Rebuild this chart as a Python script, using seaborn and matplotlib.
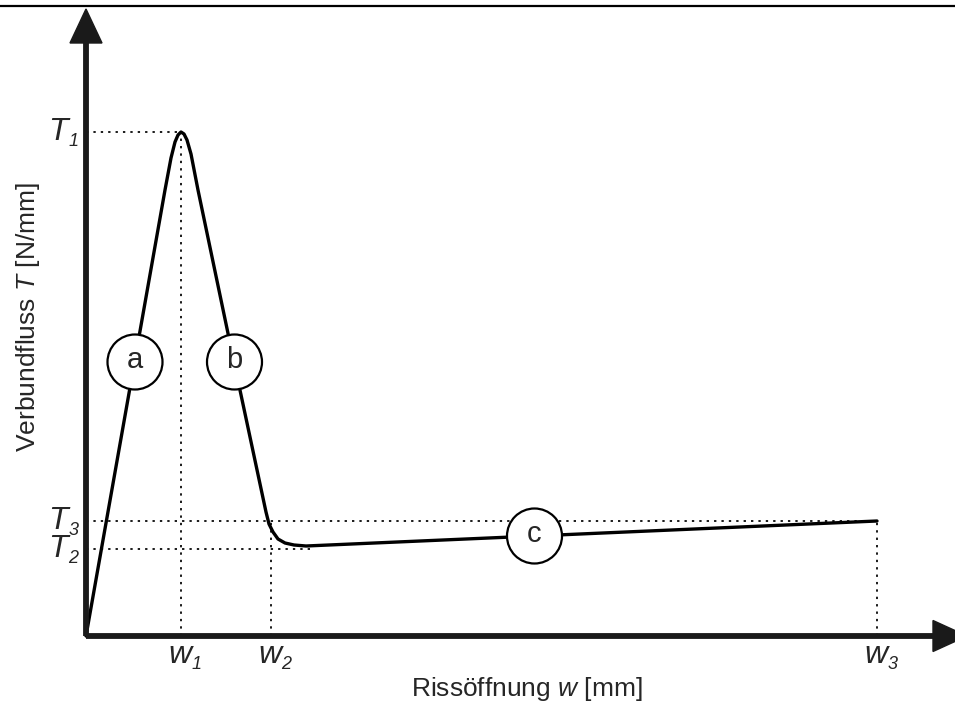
import matplotlib
matplotlib.use("Agg")
import matplotlib.pyplot as plt
from matplotlib.patches import Circle, Polygon
import seaborn as sns
import pandas as pd

#%% data (pixel-ish units from the origin)
w_curve = [0, 79, 85, 89, 92, 95, 98, 101, 105, 112, 148, 180, 183, 187, 192, 199, 208, 220, 791]
T_curve = [0, 446, 478, 494, 501, 504, 502, 496, 482, 446, 274, 124, 112, 104, 97, 93, 91, 90, 115]

w_names = ["w", "w", "w"]
w_subs = ["1", "2", "3"]
w_vals = [95, 185, 791]

T_names = ["T", "T", "T"]
T_subs = ["1", "2", "3"]
T_vals = [504, 87, 115]
T2_end = 224

zone_names = ["a", "b", "c"]
zone_w = [49, 148.5, 448.5]
zone_T = [274, 274, 100]

curve = pd.DataFrame({"w": w_curve, "T": T_curve})

#%% style
sns.set_style("white")
plt.rcParams["font.family"] = ["Liberation Sans", "DejaVu Sans"]
plt.rcParams["mathtext.fontset"] = "custom"
plt.rcParams["mathtext.rm"] = "Liberation Sans"
plt.rcParams["mathtext.it"] = "Liberation Sans:italic"

ink = "#1a1a1a"
txt = "#262626"
dots = (0, (1.2, 2.6))

fig = plt.figure(figsize=(9.55, 7.09), dpi=100)
ax = fig.add_axes([0, 0, 1, 1])

# top rule
ax.axhline(630, color="black", lw=1.6)

# axes with arrow heads
ax.plot([0, 0], [0, 594], color=ink, lw=4.2, solid_capstyle="butt", zorder=5)
ax.plot([0, 848], [0, 0], color=ink, lw=4.2, solid_capstyle="butt", zorder=5)
ax.add_patch(Polygon([[-16, 593], [16, 593], [0, 627]], closed=True, color=ink, zorder=5))
ax.add_patch(Polygon([[847, 15.5], [847, -15.5], [881, 0]], closed=True, color=ink, zorder=5))

# dotted guide lines
w1, w2, w3 = w_vals
T1, T2, T3 = T_vals
kw = dict(color=ink, lw=1.4, linestyles=dots, zorder=2)
ax.hlines(T1, 0, w1, **kw)
ax.hlines(T3, 0, w3, **kw)
ax.hlines(T2, 0, T2_end, **kw)
ax.vlines(w1, 0, T1, **kw)
ax.vlines(w2, 0, T3, **kw)
ax.vlines(w3, 0, T3, **kw)

# traction-separation curve
sns.lineplot(data=curve, x="w", y="T", sort=False, ax=ax, color="black",
             lw=2.4, zorder=3, legend=False)
ax.axis("off")
ax.set_xlim(-86, 869)
ax.set_ylim(-73, 636)

# zone circles
for name, cx, cy in zip(zone_names, zone_w, zone_T):
    ax.add_patch(Circle((cx, cy), 27.5, facecolor="white", edgecolor="black", lw=1.6, zorder=4))
    ax.text(cx, cy - 6, name, ha="center", va="baseline", fontsize=21, color=txt, zorder=6)


def sub_label(x, y, main, sub, ha):
    t = ax.text(x, y, main, ha=ha, va="baseline", fontsize=23, style="italic", color=txt)
    ax.annotate(sub, xy=(1, 0), xycoords=t, xytext=(0.3, 0.5), textcoords="offset points",
                ha="left", va="baseline", fontsize=13, style="italic", color=txt)


# tick labels
for name, sub, val in zip(T_names, T_subs, T_vals):
    sub_label(-18, val - 8, name, sub, "right")
for name, sub, val in zip(w_names, w_subs, w_vals):
    sub_label(val - 13, -27, name, sub, "left")

# axis labels
ax.text(441, -60, r"Rissöffnung $\mathit{w}$ [mm]", ha="center", va="baseline",
        fontsize=19, color=txt)
ax.text(-58, 319, r"Verbundfluss $\mathit{T}$ [N/mm]", ha="center", va="center",
        rotation=90, fontsize=19, color=txt)

fig.savefig("out.png", dpi=100)
